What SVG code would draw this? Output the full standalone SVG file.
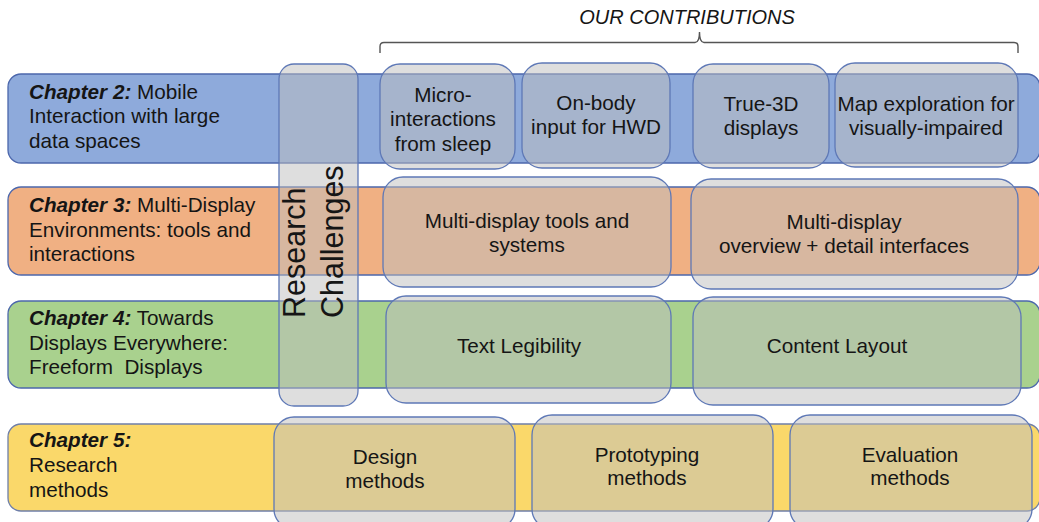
<svg xmlns="http://www.w3.org/2000/svg" width="1039" height="522" viewBox="0 0 1039 522">
<style>
text{font-family:"Liberation Sans",Arial,Helvetica,sans-serif;font-size:20.7px;fill:#151515}
.c{text-anchor:middle}
.ch{font-weight:bold;font-style:italic}
.band{stroke:#4C67AC;stroke-width:1.3}
.box{fill:#BEBEBE;fill-opacity:0.5;stroke:#5E78B6;stroke-width:1.3}
.rc{font-size:30.5px}
</style>
<rect width="1039" height="522" fill="#FFFFFF"/>
<g id="bands">
<rect id="ch2" class="band" x="8" y="74" width="1032" height="89" rx="13" fill="#8EAADB"/>
<rect id="ch3" class="band" x="8" y="187" width="1032" height="88" rx="13" fill="#F0B083"/>
<rect id="ch4" class="band" x="8" y="301" width="1032" height="87" rx="13" fill="#A9D18E"/>
<rect id="ch5" class="band" x="8" y="424" width="1032" height="87" rx="13" fill="#FAD86A" style="stroke:#6F7FA9"/>
</g>
<g id="chapter-labels">
<text x="29" y="98.5"><tspan class="ch">Chapter 2:</tspan> Mobile</text>
<text x="29" y="123">Interaction with large</text>
<text x="29" y="147.5">data spaces</text>
<text x="29" y="212"><tspan class="ch">Chapter 3:</tspan> Multi-Display</text>
<text x="29" y="236.5">Environments: tools and</text>
<text x="29" y="261">interactions</text>
<text x="29" y="325"><tspan class="ch">Chapter 4:</tspan> Towards</text>
<text x="29" y="349.5">Displays Everywhere:</text>
<text x="29" y="374" xml:space="preserve">Freeform  Displays</text>
<text x="29" y="447" class="ch">Chapter 5:</text>
<text x="29" y="472">Research</text>
<text x="29" y="497">methods</text>
</g>
<g id="research-challenges">
<rect class="box" x="279" y="64" width="79" height="342" rx="15"/>
<text class="rc" transform="translate(305,318) rotate(-90)">Research</text>
<text class="rc" transform="translate(343,318) rotate(-90)">Challenges</text>
</g>
<g id="bracket">
<path d="M380,53 V46.5 Q380,42.5 384,42.5 H695 Q699.5,42.5 699.5,32 Q699.5,42.5 704,42.5 H1014 Q1018,42.5 1018,46.5 V53" fill="none" stroke="#555555" stroke-width="1.4"/>
<text x="687" y="24" class="c" style="font-style:italic;font-size:20px">OUR CONTRIBUTIONS</text>
</g>
<g id="micro">
<rect class="box" x="380" y="64" width="135" height="105" rx="20"/>
<text class="c" x="443" y="102">Micro-</text>
<text class="c" x="443" y="126">interactions</text>
<text class="c" x="443" y="151">from sleep</text>
</g>
<g id="onbody">
<rect class="box" x="522" y="63" width="148" height="105" rx="20"/>
<text class="c" x="596" y="110">On-body</text>
<text class="c" x="596" y="134">input for HWD</text>
</g>
<g id="true3d">
<rect class="box" x="693" y="64" width="136" height="104" rx="20"/>
<text class="c" x="761" y="111">True-3D</text>
<text class="c" x="761" y="135">displays</text>
</g>
<g id="map">
<rect class="box" x="835" y="63" width="183" height="104" rx="20"/>
<text class="c" x="926" y="111">Map exploration for</text>
<text class="c" x="926" y="135">visually-impaired</text>
</g>
<g id="md-tools">
<rect class="box" x="383" y="177" width="288" height="110" rx="20"/>
<text class="c" x="527" y="228">Multi-display tools and</text>
<text class="c" x="527" y="252">systems</text>
</g>
<g id="md-overview">
<rect class="box" x="691" y="179" width="327" height="110" rx="20"/>
<text class="c" x="844" y="229">Multi-display</text>
<text class="c" x="844" y="253">overview + detail interfaces</text>
</g>
<g id="legibility">
<rect class="box" x="386" y="296" width="285" height="107" rx="20"/>
<text class="c" x="519" y="352.5">Text Legibility</text>
</g>
<g id="layout">
<rect class="box" x="693" y="297" width="328" height="108" rx="20"/>
<text class="c" x="837" y="352.5">Content Layout</text>
</g>
<g id="design">
<rect class="box" x="274" y="417" width="241" height="112" rx="20"/>
<text class="c" x="385" y="464">Design</text>
<text class="c" x="385" y="488">methods</text>
</g>
<g id="prototyping">
<rect class="box" x="532" y="415" width="241" height="114" rx="20"/>
<text class="c" x="647" y="461.5">Prototyping</text>
<text class="c" x="647" y="485">methods</text>
</g>
<g id="evaluation">
<rect class="box" x="790" y="415" width="242" height="114" rx="20"/>
<text class="c" x="910" y="461.5">Evaluation</text>
<text class="c" x="910" y="485">methods</text>
</g>
</svg>
